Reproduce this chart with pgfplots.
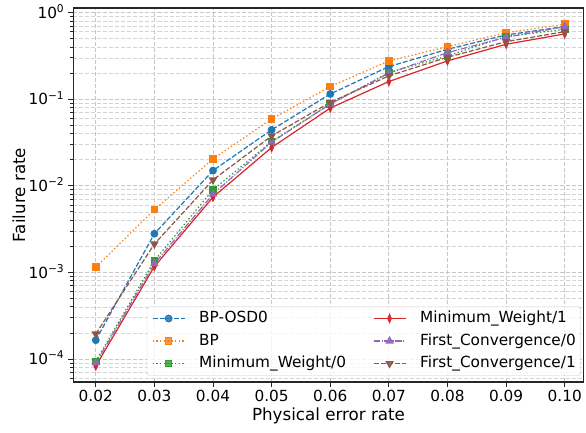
\documentclass[border=0pt]{standalone}
\usepackage{fontspec}
\setmainfont{DejaVu Sans}
\usepackage{pgfplots}
\pgfplotsset{compat=1.18}
\definecolor{tabblue}{HTML}{1F77B4}
\definecolor{taborange}{HTML}{FF7F0E}
\definecolor{tabgreen}{HTML}{2CA02C}
\definecolor{tabred}{HTML}{D62728}
\definecolor{tabpurple}{HTML}{9467BD}
\definecolor{tabbrown}{HTML}{8C564B}
\newcommand{\ticksize}{\fontsize{15.3bp}{18bp}\selectfont}
\newcommand{\labelsize}{\fontsize{16.7bp}{20bp}\selectfont}
\newcommand{\pw}[1]{10\raisebox{5.8bp}{\fontsize{10.7bp}{11bp}\selectfont #1}}
\begin{document}
\begin{tikzpicture}
\begin{axis}[
  scale only axis,
  width=510bp, height=374bp,
  ymode=log,
  xmin=0.0162, xmax=0.1032,
  ymin=5.43e-5, ymax=1.13,
  xtick={0.02,0.03,0.04,0.05,0.06,0.07,0.08,0.09,0.10},
  xticklabels={0.02,0.03,0.04,0.05,0.06,0.07,0.08,0.09,0.10},
  ytick={1e-4,1e-3,1e-2,1e-1,1},
  yticklabels={\pw{−4},\pw{−3},\pw{−2},\pw{−1},\pw{0}},
  minor ytick={6e-5,7e-5,8e-5,9e-5,2e-4,3e-4,4e-4,5e-4,6e-4,7e-4,8e-4,9e-4,
    2e-3,3e-3,4e-3,5e-3,6e-3,7e-3,8e-3,9e-3,2e-2,3e-2,4e-2,5e-2,6e-2,7e-2,8e-2,9e-2,
    0.2,0.3,0.4,0.5,0.6,0.7,0.8,0.9},
  xmajorgrids, ymajorgrids, yminorgrids,
  major grid style={dash pattern=on 4bp off 2bp, black!22, line width=0.8bp},
  minor grid style={dash pattern=on 4bp off 2bp, black!17, line width=0.7bp},
  tick align=outside,
  xtick pos=bottom, ytick pos=left,
  major tick length=5bp, minor tick length=3bp,
  tick style={black!85, line width=0.9bp},
  axis line style={black!85, line width=1.1bp},
  tick label style={font=\ticksize},
  xticklabel style={inner ysep=3bp},
  yticklabel style={anchor=base east, yshift=-5.6bp, inner xsep=4.5bp},
  xlabel={Physical error rate},
  ylabel={Failure rate},
  label style={font=\labelsize},
  xlabel style={at={(axis description cs:0.5,-0.1016)}, anchor=base},
  ylabel style={at={(axis description cs:-0.0951,0.5)}, rotate=0, anchor=base},
  every axis plot/.append style={line width=1.2bp},
  legend image code/.code={\draw[mark repeat=2, mark phase=2, #1]
    plot coordinates {(0bp,0bp) (16bp,0bp) (32bp,0bp)};},
  legend columns=3, transpose legend,
  legend style={at={(axis description cs:1,0)}, anchor=south east,
    xshift=-2.5bp, yshift=6.3bp,
    draw=black!20, rounded corners=3bp, fill=white, fill opacity=0.8,
    text opacity=1, font=\ticksize,
    inner xsep=5bp, inner ysep=5bp, row sep=8.5bp,
    /tikz/every odd column/.append style={column sep=14bp},
    /tikz/every even column/.append style={column sep=27bp},
    nodes={inner sep=0bp, text height=11bp, text depth=3bp}},
  legend cell align=left,
]
\addplot[tabblue, dash pattern=on 5bp off 2bp, mark=*, mark size=3.3bp, mark options={solid}]
coordinates {(0.02,1.65e-4)(0.03,2.8e-3)(0.04,1.5e-2)(0.05,4.43e-2)(0.06,0.115)(0.07,0.238)(0.08,0.377)(0.09,0.552)(0.10,0.689)};
\addlegendentry{BP-OSD0}
\addplot[taborange, dash pattern=on 1.4bp off 2.3bp, mark=square*, mark size=3.2bp, mark options={solid}]
coordinates {(0.02,1.15e-3)(0.03,5.3e-3)(0.04,2.05e-2)(0.05,5.9e-2)(0.06,0.14)(0.07,0.277)(0.08,0.404)(0.09,0.586)(0.10,0.733)};
\addlegendentry{BP}
\addplot[tabgreen, dash pattern=on 1.4bp off 2.3bp, mark=square*, mark size=3.2bp, mark options={solid}]
coordinates {(0.02,9.4e-5)(0.03,1.37e-3)(0.04,9.0e-3)(0.05,3.24e-2)(0.06,0.088)(0.07,0.203)(0.08,0.316)(0.09,0.53)(0.10,0.641)};
\addlegendentry{Minimum\_Weight/0}
\addplot[tabred, solid, mark=diamond*, mark size=3.8bp, mark options={solid, xscale=0.6}]
coordinates {(0.02,8.3e-5)(0.03,1.17e-3)(0.04,7.4e-3)(0.05,2.77e-2)(0.06,0.079)(0.07,0.16)(0.08,0.277)(0.09,0.431)(0.10,0.567)};
\addlegendentry{Minimum\_Weight/1}
\addplot[tabpurple, dash pattern=on 6.4bp off 1.6bp on 1.2bp off 1.6bp, mark=triangle*, mark size=3.8bp, mark options={solid}]
coordinates {(0.02,9.0e-5)(0.03,1.26e-3)(0.04,8.0e-3)(0.05,3.2e-2)(0.06,0.088)(0.07,0.2)(0.08,0.345)(0.09,0.519)(0.10,0.689)};
\addlegendentry{First\_Convergence/0}
\addplot[tabbrown, dash pattern=on 5bp off 2bp, mark=triangle*, mark size=3.8bp, mark options={solid, rotate=180}]
coordinates {(0.02,1.95e-4)(0.03,2.13e-3)(0.04,1.17e-2)(0.05,3.77e-2)(0.06,0.092)(0.07,0.186)(0.08,0.305)(0.09,0.462)(0.10,0.602)};
\addlegendentry{First\_Convergence/1}
\end{axis}
\pgfresetboundingbox
\path (-73.5bp,-51bp) rectangle (512.5bp,382bp);
\end{tikzpicture}
\end{document}
